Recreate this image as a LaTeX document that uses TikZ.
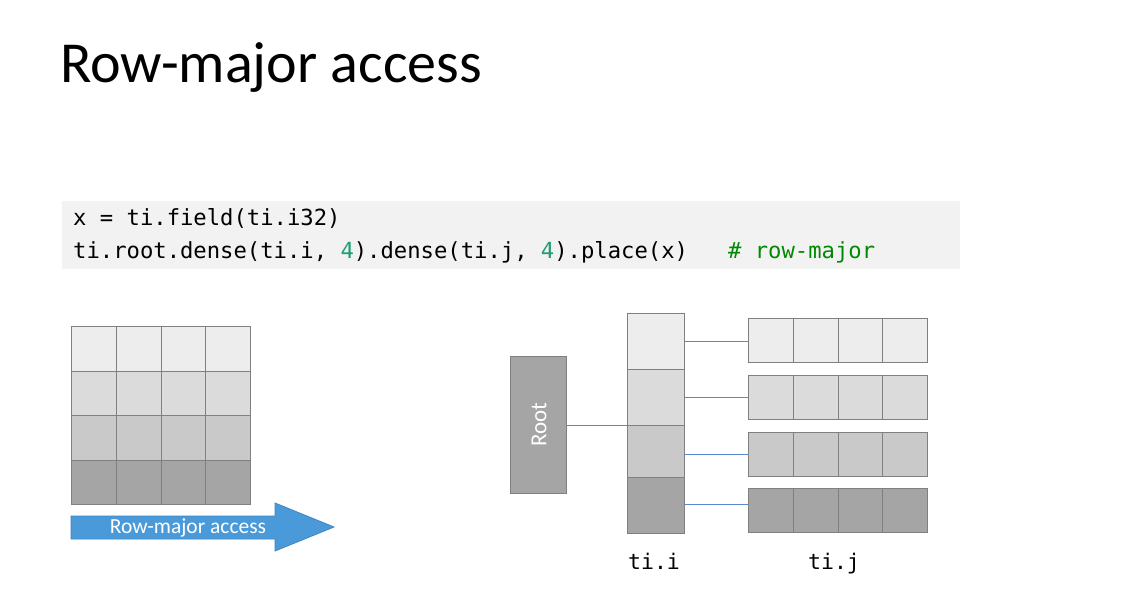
\documentclass[tikz,border=0pt]{standalone}
\usepackage{fontspec}
\setmainfont{Carlito}
\setmonofont{DejaVu Sans Mono}
\definecolor{rowA}{HTML}{EDEDED}
\definecolor{rowB}{HTML}{DBDBDB}
\definecolor{rowC}{HTML}{C9C9C9}
\definecolor{rowD}{HTML}{A5A5A5}
\definecolor{cellborder}{HTML}{808080}
\definecolor{codebg}{HTML}{F2F2F2}
\definecolor{numcol}{HTML}{1E9E74}
\definecolor{cmtcol}{HTML}{008A00}
\definecolor{linkcol}{HTML}{5A86D2}
\definecolor{arrowfill}{HTML}{4A9ADA}
\definecolor{arrowdraw}{HTML}{3C85C4}
\begin{document}
\begin{tikzpicture}[x=1pt,y=-1pt,
  cell/.style={draw=cellborder, line width=1pt, inner sep=0pt, anchor=north west},
  link/.style={draw=linkcol, line width=0.7pt},
  codetext/.style={font=\ttfamily\fontsize{22.2}{26}\selectfont, anchor=base west, inner sep=0pt},
  lbl/.style={font=\ttfamily\fontsize{21.5}{26}\selectfont, anchor=base, inner sep=0pt}]
\useasboundingbox (0,0) rectangle (1147,615);
\fill[white] (0,0) rectangle (1147,615);
% title
\node[anchor=base west, inner sep=0pt, font=\fontsize{58}{62}\selectfont] (title) at (60,83) {Row-major access};
% code box
\node[fill=codebg, minimum width=898pt, minimum height=68pt, anchor=north west, inner sep=0pt] (code) at (62,201) {};
\node[codetext] (l1) at (73,225) {x = ti.field(ti.i32)};
\node[codetext] (l2) at (73,258) {ti.root.dense(ti.i, \textcolor{numcol}{4}).dense(ti.j, \textcolor{numcol}{4}).place(x)\ \ \ \textcolor{cmtcol}{\# row-major}};
% left grid
\foreach \r/\c in {1/rowA,2/rowB,3/rowC,4/rowD}{
  \foreach \k in {1,...,4}{
    \node[cell, fill=\c, minimum width=44.75pt, minimum height=44.5pt] (g\r\k) at ({71+(\k-1)*44.75},{326+(\r-1)*44.5}) {};
  }
}
% arrow
\draw[fill=arrowfill, draw=arrowdraw, line width=0.8pt] (71,516) -- (275,516) -- (275,503) -- (334,527) -- (275,551) -- (275,539) -- (71,539) -- cycle;
\node[text=white, font=\fontsize{21.5}{23}\selectfont, inner sep=0pt] (arrowtext) at (188,528) {Row-major access};
% root
\node[cell, fill=rowD, minimum width=56pt, minimum height=137pt] (root) at (510,356) {};
\node[rotate=90, text=white, font=\fontsize{23}{25}\selectfont, inner sep=0pt] (roottext) at (539,425) {Root};
% ti.i column
\node[cell, fill=rowA, minimum width=57pt, minimum height=56pt] (i1) at (627,313) {};
\node[cell, fill=rowB, minimum width=57pt, minimum height=56pt] (i2) at (627,369) {};
\node[cell, fill=rowC, minimum width=57pt, minimum height=52pt] (i3) at (627,425) {};
\node[cell, fill=rowD, minimum width=57pt, minimum height=56pt] (i4) at (627,477) {};
% ti.j rows
\foreach \r/\c/\y in {1/rowA/318,2/rowB/375,3/rowC/432,4/rowD/488}{
  \foreach \k in {1,...,4}{
    \node[cell, fill=\c, minimum width=44.75pt, minimum height=44pt] (j\r\k) at ({748+(\k-1)*44.75},\y) {};
  }
}
% links
\draw[link] (root.east |- 0,425) -- (i3.north west);
\draw[link] (i1.east |- 0,341) -- (j11.west |- 0,341);
\draw[link] (i2.east |- 0,397) -- (j21.west |- 0,397);
\draw[link] (i3.east |- 0,454) -- (j31.west |- 0,454);
\draw[link] (i4.east |- 0,504) -- (j41.west |- 0,504);
% labels
\node[lbl] (labi) at (654,569) {ti.i};
\node[lbl] (labj) at (834,569) {ti.j};
\end{tikzpicture}
\end{document}
